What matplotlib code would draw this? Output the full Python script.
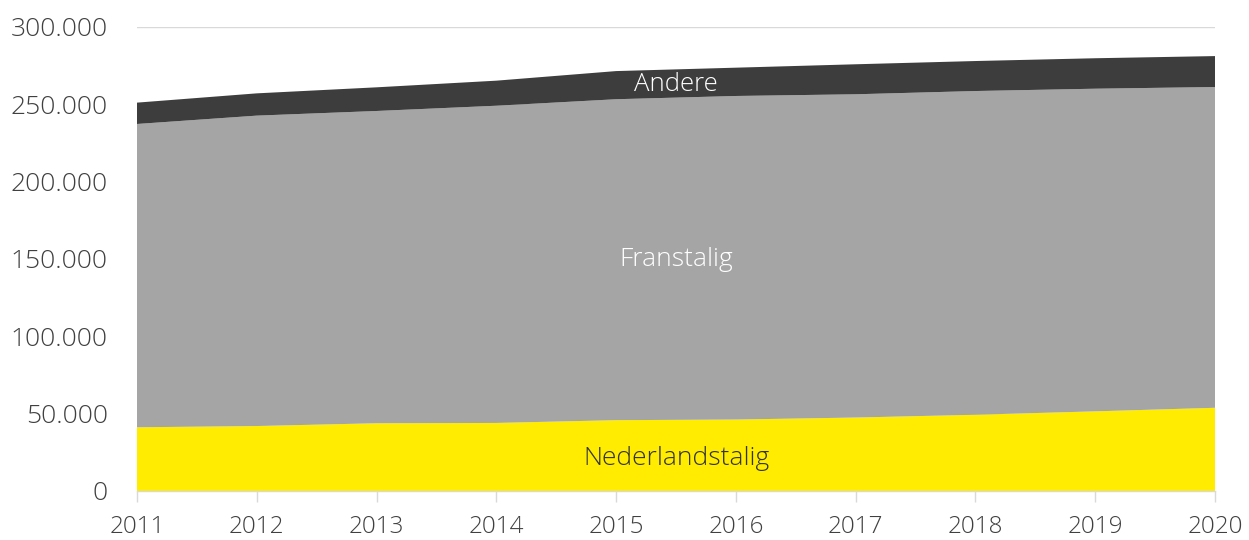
import matplotlib
matplotlib.use("Agg")
import matplotlib.pyplot as plt
from matplotlib.ticker import FuncFormatter
from matplotlib import font_manager

years = [2011, 2012, 2013, 2014, 2015, 2016, 2017, 2018, 2019, 2020]
nederlandstalig = [41200, 42000, 43800, 44000, 45800, 46200, 47500, 49300, 51500, 53800]
franstalig = [196100, 200700, 201900, 205100, 207500, 209200, 209000, 209300, 208600, 207400]
andere = [13800, 14400, 15300, 16200, 18200, 18300, 19400, 19400, 19700, 20000]
series_names = ["Nederlandstalig", "Franstalig", "Andere"]
yticks = [0, 50000, 100000, 150000, 200000, 250000, 300000]

colors = ["#FFEC00", "#A5A5A5", "#3D3D3D"]

avail = {f.name for f in font_manager.fontManager.ttflist}
main_font = "Open Sans" if "Open Sans" in avail else "DejaVu Sans"

fig = plt.figure(figsize=(12.49, 5.40), dpi=100)
ax = fig.add_axes([137/1249, 49/540, (1215-137)/1249, (491-27)/540])

ax.stackplot(years, nederlandstalig, franstalig, andere, colors=colors,
             linewidth=0, zorder=2)

ax.set_xlim(years[0], years[-1])
ax.set_ylim(0, 300000)
ax.set_yticks(yticks)
ax.yaxis.set_major_formatter(FuncFormatter(lambda v, p: f"{int(v):,}".replace(",", ".")))
ax.set_xticks(years)
ax.set_xticklabels([str(y) for y in years])

ax.grid(axis="y", color="#D9D9D9", linewidth=1, zorder=0)
ax.set_axisbelow(True)
for s in ["top", "right", "left"]:
    ax.spines[s].set_visible(False)
ax.spines["bottom"].set_color("#D9D9D9")
ax.spines["bottom"].set_linewidth(1)
ax.spines["bottom"].set_zorder(3)

ax.tick_params(axis="y", length=0, pad=21, labelsize=19, labelcolor="#404040")
ax.tick_params(axis="x", length=8, width=1, color="#D9D9D9", pad=9,
               labelsize=17.5, labelcolor="#404040")
for lab in ax.get_yticklabels():
    lab.set_fontfamily(main_font)
    lab.set_fontweight("light")
for lab in ax.get_xticklabels():
    lab.set_fontfamily(main_font)
    lab.set_fontweight("light")

ax.text(2015.5, 262800, "Andere", color="white", fontsize=18.5, ha="center", va="center",
        family=main_font, fontweight="light", zorder=4)
ax.text(2015.5, 149400, "Franstalig", color="white", fontsize=19, ha="center", va="center",
        family=main_font, fontweight="light", zorder=4)
ax.text(2015.5, 21000, "Nederlandstalig", color="#333333", fontsize=19, ha="center", va="center",
        family=main_font, fontweight="light", zorder=4)

fig.savefig("out.png", dpi=100)
